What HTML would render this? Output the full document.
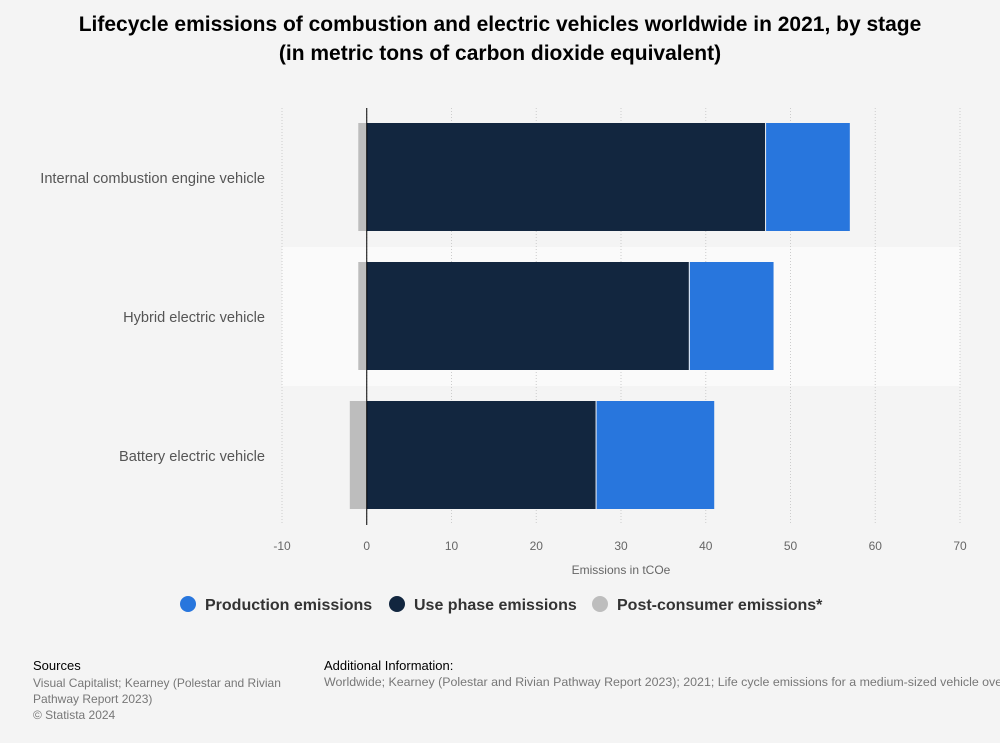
<!DOCTYPE html>
<html><head><meta charset="utf-8"><style>
body{margin:0;background:#f4f4f4;font-family:"Liberation Sans",sans-serif;}
#wrap{position:relative;width:1000px;height:743px;overflow:hidden;background:#f4f4f4;}
.t{position:absolute;}
</style></head><body>
<div id="wrap">
<div class="t" style="left:0;top:10px;width:1000px;text-align:center;font-weight:bold;font-size:21px;line-height:29px;color:#000;white-space:nowrap;">Lifecycle emissions of combustion and electric vehicles worldwide in 2021, by stage<br>(in metric tons of carbon dioxide equivalent)</div>
<svg id="chart" width="1000" height="743" style="position:absolute;left:0;top:0"></svg>
<div class="t" style="left:33px;top:658px;font-size:13px;color:#000;">Sources</div>
<div class="t" style="left:33px;top:675px;font-size:12px;line-height:16px;color:#777;">Visual Capitalist; Kearney (Polestar and Rivian<br>Pathway Report 2023)<br>© Statista 2024</div>
<div class="t" style="left:324px;top:658px;font-size:13px;color:#000;">Additional Information:</div>
<div class="t" style="left:324px;top:675px;font-size:12.4px;color:#777;white-space:nowrap;">Worldwide; Kearney (Polestar and Rivian Pathway Report 2023); 2021; Life cycle emissions for a medium-sized vehicle over</div>
</div>
<script>
const categories=["Internal combustion engine vehicle","Hybrid electric vehicle","Battery electric vehicle"];
const useValues=[47,38,27];
const productionValues=[10,10,14];
const postValues=[-1,-1,-2];
const ticks=[-10,0,10,20,30,40,50,60,70];
const svg=document.getElementById('chart');
const NS='http://www.w3.org/2000/svg';
const x0=282,x1=960,vmin=-10,vmax=70;
const X=v=>x0+(v-vmin)/(vmax-vmin)*(x1-x0);
const top0=108,rowH=139;
function el(tag,attrs){const e=document.createElementNS(NS,tag);for(const k in attrs)e.setAttribute(k,attrs[k]);svg.appendChild(e);return e;}
categories.forEach((c,i)=>{if(i%2===1){const b=el('rect',{x:x0,y:top0+i*rowH,width:x1-x0,height:rowH,fill:'#fafafa'});

}});
ticks.forEach(t=>{const l=el('line',{x1:X(t),x2:X(t),y1:top0,y2:525,stroke:'#ccc','stroke-dasharray':'1,2'});


const tx=el('text',{x:X(t),y:550,'text-anchor':'middle','font-size':12,fill:'#666'});tx.textContent=t;

});
categories.forEach((c,i)=>{const y=top0+i*rowH+15,h=108;
const p=el('rect',{x:X(postValues[i]),y:y,width:X(0)-X(postValues[i]),height:h,fill:'#bdbdbd'});


const u=el('rect',{x:X(0),y:y,width:X(useValues[i])-X(0),height:h,fill:'#12263f'});


const pr=el('rect',{x:X(useValues[i])+1,y:y,width:X(useValues[i]+productionValues[i])-X(useValues[i])-1,height:h,fill:'#2876dd'});


const lb=el('text',{x:265,y:top0+i*rowH+75,'text-anchor':'end','font-size':14.6,fill:'#555'});lb.textContent=c;

});
const z=el('line',{x1:X(0),x2:X(0),y1:top0,y2:525,stroke:'#000','stroke-width':1});


const at=el('text',{x:621,y:574,'text-anchor':'middle','font-size':12,fill:'#666'});at.textContent='Emissions in tCOe';


const leg=[['Production emissions','#2876dd',188],['Use phase emissions','#12263f',397],['Post-consumer emissions*','#bdbdbd',600]];
leg.forEach(l=>{const c=el('circle',{cx:l[2],cy:604,r:8,fill:l[1]});


const t=el('text',{x:l[2]+17,y:610,'font-size':16,'font-weight':'bold',fill:'#333'});t.textContent=l[0];

});
</script>
</body></html>
